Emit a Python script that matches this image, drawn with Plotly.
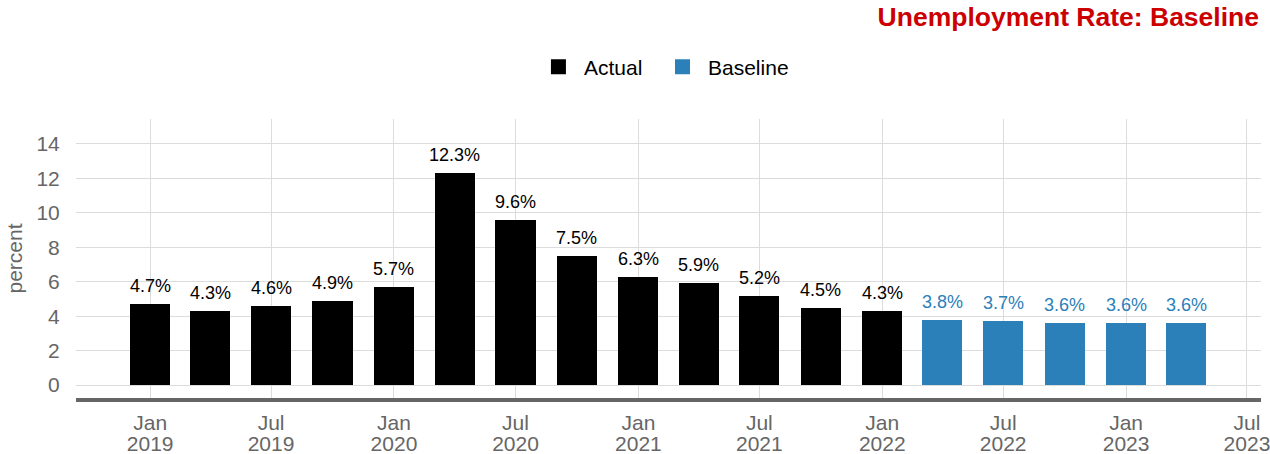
import plotly.graph_objects as go

actual_dates = ["2019-01-01", "2019-04-01", "2019-07-01", "2019-10-01",
                "2020-01-01", "2020-04-01", "2020-07-01", "2020-10-01",
                "2021-01-01", "2021-04-01", "2021-07-01", "2021-10-01",
                "2022-01-01"]
actual_values = [4.7, 4.3, 4.6, 4.9, 5.7, 12.3, 9.6, 7.5, 6.3, 5.9, 5.2, 4.5, 4.3]

baseline_dates = ["2022-04-01", "2022-07-01", "2022-10-01", "2023-01-01", "2023-04-01"]
baseline_values = [3.8, 3.7, 3.6, 3.6, 3.6]

y_ticks = [0, 2, 4, 6, 8, 10, 12, 14]
x_range = ["2018-09-12", "2023-07-22"]

BLACK = "#000000"
BLUE = "#2b80b9"
GREY = "#666666"
FONT = "Liberation Sans, Arial, sans-serif"
BAR_W = 60 * 86400000

fig = go.Figure()
fig.add_trace(go.Bar(x=actual_dates, y=actual_values, name="Actual", showlegend=False,
                     marker=dict(color=BLACK, line=dict(width=0)), width=BAR_W))
fig.add_trace(go.Bar(x=baseline_dates, y=baseline_values, name="Baseline", showlegend=False,
                     marker=dict(color=BLUE, line=dict(width=0)), width=BAR_W))
# legend entries with larger square symbols
fig.add_trace(go.Scatter(x=[None], y=[None], mode="markers", name="Actual", legend="legend",
                         marker=dict(symbol="square", size=15, color=BLACK)))
fig.add_trace(go.Scatter(x=[None], y=[None], mode="markers", name="Baseline", legend="legend2",
                         marker=dict(symbol="square", size=15, color=BLUE)))
# invisible trace so the year-label axis is drawn
fig.add_trace(go.Scatter(x=baseline_dates, y=baseline_values, xaxis="x2", mode="markers",
                         marker=dict(opacity=0), showlegend=False, hoverinfo="skip"))

for d, v in zip(actual_dates, actual_values):
    fig.add_annotation(x=d, y=v, text=f"{v:.1f}%", showarrow=False,
                       yanchor="bottom", yshift=6,
                       font=dict(family=FONT, size=18, color=BLACK))
for d, v in zip(baseline_dates, baseline_values):
    fig.add_annotation(x=d, y=v, text=f"{v:.1f}%", showarrow=False,
                       yanchor="bottom", yshift=6,
                       font=dict(family=FONT, size=18, color=BLUE))

legend_common = dict(orientation="h", xanchor="left", y=1 + 52 / 279, yanchor="middle",
                     font=dict(family=FONT, size=21, color=BLACK), itemwidth=41)

fig.update_layout(
    width=1270, height=454,
    margin=dict(l=76, r=9, t=119, b=56),
    paper_bgcolor="white", plot_bgcolor="white",
    font=dict(family=FONT),
    title=dict(text="<b>Unemployment Rate: Baseline</b>", xref="container", yref="container",
               x=1259 / 1270, xanchor="right", y=1 - 17 / 454, yanchor="middle",
               font=dict(family=FONT, size=26.5, color="#cc0000")),
    legend=dict(x=0.3856, **legend_common),
    legend2=dict(x=0.4903, **legend_common),
    bargap=0,
    showlegend=True,
    xaxis=dict(
        type="date", range=x_range, automargin=False,
        tick0="2019-01-01", dtick="M6", tickformat="%b",
        showgrid=True, gridcolor="#dcdcdc", gridwidth=1,
        showline=True, linecolor=GREY, linewidth=4,
        ticks="", tickfont=dict(family=FONT, size=21, color=GREY),
        ticklabelstandoff=3, ticklabeloverflow="allow", zeroline=False,
    ),
    xaxis2=dict(
        type="date", range=x_range, automargin=False, overlaying="x", side="bottom",
        tick0="2019-01-01", dtick="M6", tickformat="%Y",
        showgrid=False, showline=False, ticks="",
        tickfont=dict(family=FONT, size=21, color=GREY),
        ticklabelstandoff=31, ticklabeloverflow="allow", zeroline=False,
    ),
    yaxis=dict(
        range=[-0.75, 15.45], tickvals=y_ticks, ticktext=[str(t) for t in y_ticks],
        showgrid=True, gridcolor="#dcdcdc", gridwidth=1, automargin=False,
        zeroline=False, showline=False,
        ticks="outside", ticklen=11, tickcolor="rgba(0,0,0,0)",
        tickfont=dict(family=FONT, size=21, color=GREY),
        title=dict(text="percent", font=dict(family=FONT, size=21, color=GREY), standoff=8),
    ),
)

fig.write_html("out.html")
